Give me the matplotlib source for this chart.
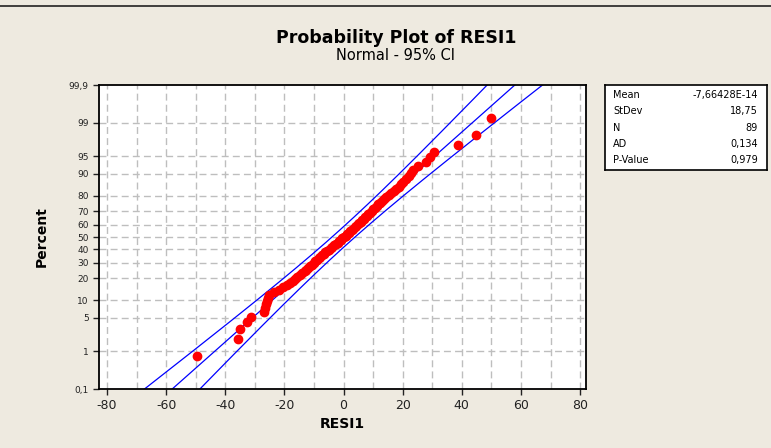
import numpy as np
import matplotlib.pyplot as plt
from statistics import NormalDist

# Residuals, sorted (N = 89)
resid = [-49.7, -35.8, -35.0, -32.6, -31.2, -26.8, -26.5, -26.2, -25.9, -25.6,
         -25.2, -23.5, -21.8, -20.5, -19.2, -18.0, -17.2, -16.4, -15.6, -14.8,
         -14.0, -13.2, -12.6, -12.0, -11.3, -10.7, -10.1, -9.6, -9.0, -8.4,
         -7.8, -7.3, -6.7, -6.1, -5.6, -5.0, -4.4, -3.8, -3.2, -2.6,
         -2.0, -1.4, -0.9, -0.4, 0.2, 0.7, 1.2, 1.7, 2.2, 2.7,
         3.3, 3.8, 4.3, 4.8, 5.3, 5.8, 6.3, 6.8, 7.4, 7.9,
         8.4, 9.0, 9.5, 10.1, 10.7, 11.2, 11.8, 12.4, 13.1, 13.8,
         14.5, 15.3, 16.1, 17.0, 17.8, 18.6, 19.4, 20.2, 21.0, 22.0,
         22.8, 23.6, 25.2, 27.8, 29.3, 30.6, 38.8, 44.8, 49.8]

mean = 0.0
stdev = 18.75
n = 89
stat_names = ["Mean", "StDev", "N", "AD", "P-Value"]
stat_values = ["-7,66428E-14", "18,75", "89", "0,134", "0,979"]

pct_ticks = [0.1, 1, 5, 10, 20, 30, 40, 50, 60, 70, 80, 90, 95, 99, 99.9]
pct_labels = ["0,1", "1", "5", "10", "20", "30", "40", "50", "60", "70",
              "80", "90", "95", "99", "99,9"]
x_ticks = [-80, -60, -40, -20, 0, 20, 40, 60, 80]

nd = NormalDist()
def zq(p):
    return nd.inv_cdf(p / 100.0)

bg = "#EEEAE0"
fig = plt.figure(figsize=(7.71, 4.48), dpi=100, facecolor=bg)
ax = fig.add_axes([99/771, 1 - 389/448, 487/771, 304/448])

# grid
for gx in np.arange(-80, 81, 10):
    ax.axvline(gx, color="#BEBEBE", lw=1, ls=(0, (5, 3)), zorder=0)
for p in pct_ticks[1:-1]:
    ax.axhline(zq(p), color="#BEBEBE", lw=1, ls=(0, (5, 3)), zorder=0)

# fitted line and 95% CI
zz = np.linspace(-3.2, 3.2, 200)
fit = mean + stdev * zz
half = 1.96 * stdev * np.sqrt((1 + zz**2 / 2) / n)
ax.plot(fit, zz, color="#0000FF", lw=0.9)
ax.plot(fit - half, zz, color="#0000FF", lw=0.9)
ax.plot(fit + half, zz, color="#0000FF", lw=0.9)

# points at median ranks
ranks = [(i + 1 - 0.3) / (n + 0.4) * 100 for i in range(n)]
ax.plot(resid, [zq(p) for p in ranks], ls="none", marker="o", ms=6,
        color="#FF0000", mec="#FF0000")

ax.set_xlim(-82.7, 82)
ax.set_ylim(zq(0.1), zq(99.9))
ax.set_xticks(x_ticks)
ax.set_xticklabels([str(t) for t in x_ticks])
ax.set_yticks([zq(p) for p in pct_ticks])
ax.set_yticklabels(pct_labels)
ax.tick_params(axis="x", labelsize=9, length=4, width=1, colors="#222222")
ax.tick_params(axis="y", labelsize=6.5, length=4, width=1, colors="#222222")
for s in ax.spines.values():
    s.set_linewidth(1.3)

ax.set_xlabel("RESI1", fontsize=10, fontweight="bold", labelpad=3)
ax.set_ylabel("Percent", fontsize=10, fontweight="bold", labelpad=14)

fig.text(396/771, 1 - 38/448, "Probability Plot of RESI1", ha="center", va="center",
         fontsize=12.5, fontweight="bold")
fig.text(396/771, 1 - 56/448, "Normal - 95% CI", ha="center", va="center", fontsize=10.5)

# stats box
box = fig.add_axes([605/771, 1 - 170/448, 162/771, 85/448])
box.set_xticks([])
box.set_yticks([])
box.set_xlim(0, 1)
box.set_ylim(0, 1)
for s in box.spines.values():
    s.set_linewidth(1.2)
for k, (nm, val) in enumerate(zip(stat_names, stat_values)):
    yy = 1 - (10 + 16.3 * k) / 85
    box.text(8/162, yy, nm, fontsize=7, va="center", ha="left")
    box.text(153/162, yy, val, fontsize=7, va="center", ha="right")

fig.add_artist(plt.Line2D([0, 1], [1 - 6/448, 1 - 6/448], color="#222222", lw=1.2))

fig.savefig("out.png", dpi=100, facecolor=bg)
